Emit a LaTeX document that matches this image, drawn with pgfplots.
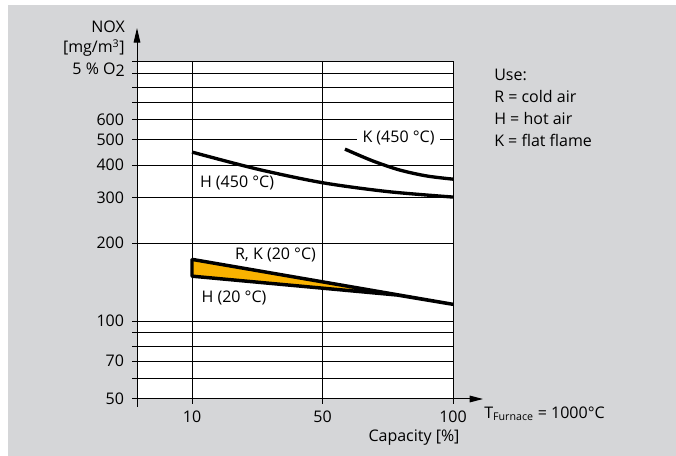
\documentclass[border=0pt]{standalone}
\usepackage{fontspec}
\setmainfont{Open Sans}
\usepackage{pgfplots}
\pgfplotsset{compat=1.18}
\usetikzlibrary{arrows.meta}
\definecolor{bggrey}{HTML}{D5D6D8}
\definecolor{bandorange}{HTML}{F9B200}

\begin{document}
\begin{tikzpicture}[font=\fontsize{12}{14}\selectfont]
% pixel grid of the reference: 1px = 0.75pt, y down
\begin{scope}[x=0.75pt,y=-0.75pt]
\useasboundingbox (0,0) rectangle (676,456);
\fill[bggrey] (8,5) rectangle (676,456);
\end{scope}

\begin{axis}[
    at={(102.75pt,-299.25pt)}, anchor=south west,
    scale only axis, width=237pt, height=252.75pt,
    xmin=-0.4215, xmax=2,
    ymode=log, ymin=50, ymax=1000,
    axis background/.style={fill=white},
    axis line style={draw=black,line width=0.75pt},
    xtick={0,1,2}, xticklabels={10,50,100},
    ytick={50,60,70,80,90,100,200,300,400,500,600,700,800,900,1000},
    yticklabels={50,,70,,,100,200,300,400,500,600,,,,},
    minor ytick={},
    xtick pos=bottom, ytick pos=left, tick align=outside,
    major tick length=3.75pt,
    tick style={draw=black,line width=0.75pt},
    grid=major, grid style={draw=black,line width=0.75pt},
    tick label style={font=\fontsize{12}{14}\selectfont},
    xticklabel style={yshift=-2pt},
    yticklabel style={xshift=-2.5pt},
    /pgf/number format/assume math mode=true,
    clip=false,
]
% H (450 C)
\addplot[black,line width=2.5pt,smooth] coordinates {
    (0,449) (0.5,386) (1,342) (1.5,316) (2,301)
};
% K (450 C)
\addplot[black,line width=2.5pt,smooth] coordinates {
    (1.172,461) (1.38,416) (1.59,383) (1.80,363) (2,353)
};
% R, K (20 C) upper edge and H (20 C) lower edge
\addplot[draw=black,fill=bandorange,line width=2.6pt,line join=bevel] coordinates {
    (0,173) (2,116) (1.571,126) (0,149)
} -- cycle;
\end{axis}

\begin{scope}[x=0.75pt,y=-0.75pt]
\draw[line width=0.75pt] (137,399) -- (137,407);
\draw[line width=0.75pt,-{Triangle[length=11pt,width=5pt]}] (137,62) -- (137,28);
\draw[line width=0.75pt,-{Triangle[length=10pt,width=5pt]}] (453,399) -- (483,399);

\node[anchor=base east,inner sep=0pt] at (125,33) {NOX};
\node[anchor=base east,inner sep=0pt] at (125,53) {[mg/m\textsuperscript{3}]};
\node[anchor=base east,inner sep=0pt] at (125,75) {5 \% O{\raisebox{-0.12em}{2}}};

\node[inner sep=0pt] at (414,438) {Capacity [\%]};
\node[anchor=west,inner sep=0pt] at (484,414) {T\textsubscript{Furnace} = 1000°C};

\node[anchor=base west,inner sep=0pt] at (494,81) {Use:};
\node[anchor=base west,inner sep=0pt] at (494,103) {R = cold air};
\node[anchor=base west,inner sep=0pt] at (494,125) {H = hot air};
\node[anchor=base west,inner sep=0pt] at (494,147) {K = flat flame};

\node[fill=white,inner xsep=2pt,inner ysep=1pt] at (237,183) {H (450 °C)};
\node[fill=white,inner xsep=4.5pt,inner ysep=1pt] at (398.5,138) {K (450 °C)};
\node[fill=white,inner xsep=3pt,inner ysep=1pt] at (275.5,255) {R, K (20 °C)};
\node[fill=white,inner xsep=2pt,inner ysep=1pt] at (234,298) {H (20 °C)};
\end{scope}
\end{tikzpicture}
\end{document}
